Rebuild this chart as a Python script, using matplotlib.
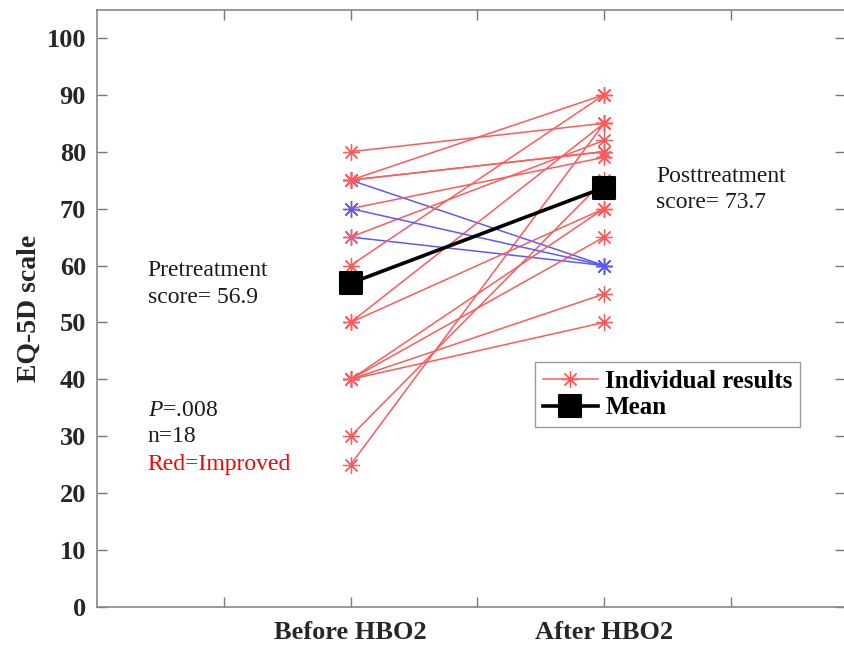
import matplotlib
matplotlib.use("Agg")
import matplotlib.pyplot as plt
from matplotlib.markers import MarkerStyle

# EQ-5D scores per patient (listed in drawing order)
before = [75, 65, 80, 75, 75, 70, 65, 60, 50, 50, 40, 40, 40, 40, 30, 25, 75, 70]
after = [60, 60, 85, 90, 80, 79, 82, 90, 70, 85, 70, 65, 55, 50, 75, 85, 80, 60]
mean_scores = [56.9, 73.7]
x_pos = [1, 2]
x_labels = ["Before HBO2", "After HBO2"]

plt.rcParams['font.family'] = ['Liberation Serif', 'DejaVu Serif']
plt.rcParams['mathtext.fontset'] = 'custom'
plt.rcParams['mathtext.it'] = 'Liberation Serif:italic'
plt.rcParams['mathtext.rm'] = 'Liberation Serif'

RED = '#ff5a5a'
BLUE = '#5a5aff'

fig = plt.figure(figsize=(8.45, 6.48), dpi=100)
ax = fig.add_axes([0.1148, 0.0633, 0.8852, 0.9213])

for b, a in zip(before, after):
    col = RED if a > b else BLUE
    ax.plot(x_pos, [b, a], color=col, lw=1.1,
            marker=(8, 2, 0), markersize=12, mew=0.9)

sq = MarkerStyle('s', joinstyle='round')
ax.plot(x_pos, mean_scores, color='black', lw=2.6, marker=sq,
        markersize=15.5, mew=1.5)

# legend proxies
h1, = ax.plot([], [], color=RED, lw=1.1, marker=(8, 2, 0),
              markersize=12, mew=0.9)
h2, = ax.plot([], [], color='black', lw=2.6, marker=sq,
              markersize=15.5, mew=1.5)
leg = ax.legend([h1, h2], ["Individual results", "Mean"], loc='upper left',
                bbox_to_anchor=(0.586, 0.41), fancybox=False, framealpha=1,
                edgecolor='#999999', prop={'weight': 'bold', 'size': 18},
                handlelength=2.2, borderpad=0.3, labelspacing=0.15,
                handletextpad=0.3, borderaxespad=0)
leg.get_frame().set_linewidth(1.0)

txt = '#1a1a1a'
ax.text(0.2, 59.2, "Pretreatment", fontsize=17, va='center', color=txt)
ax.text(0.2, 54.3, "score= 56.9", fontsize=17, va='center', color=txt)
ax.text(2.206, 75.7, "Posttreatment", fontsize=17, va='center', color=txt)
ax.text(2.206, 71.0, "score= 73.7", fontsize=17, va='center', color=txt)
ax.text(0.2, 34.6, "$\\it{P}$=.008", fontsize=17, va='center', color=txt)
ax.text(0.2, 29.9, "n=18", fontsize=17, va='center', color=txt)
ax.text(0.2, 25.0, "Red=Improved", fontsize=17, va='center', color='red')

ax.set_xlim(0, 2.95)
ax.set_ylim(0, 104.9)
ax.set_xticks([0.5, 1, 1.5, 2, 2.5])
ax.set_xticklabels(["", x_labels[0], "", x_labels[1], ""],
                   fontsize=19, fontweight='bold', color='#262626')
ax.set_yticks(range(0, 101, 10))
ax.set_yticklabels([str(v) for v in range(0, 101, 10)],
                   fontsize=19, fontweight='bold', color='#262626')
ax.tick_params(direction='in', length=7, width=1, color='#777777',
               top=True, right=True, pad=8)
ax.tick_params(axis='x', pad=10)
for s in ax.spines.values():
    s.set_color('#888888')
    s.set_linewidth(1.2)
ax.set_ylabel("EQ-5D scale", fontsize=20, fontweight='bold', color='#262626',
              labelpad=3)

fig.savefig("out.png", dpi=100)
